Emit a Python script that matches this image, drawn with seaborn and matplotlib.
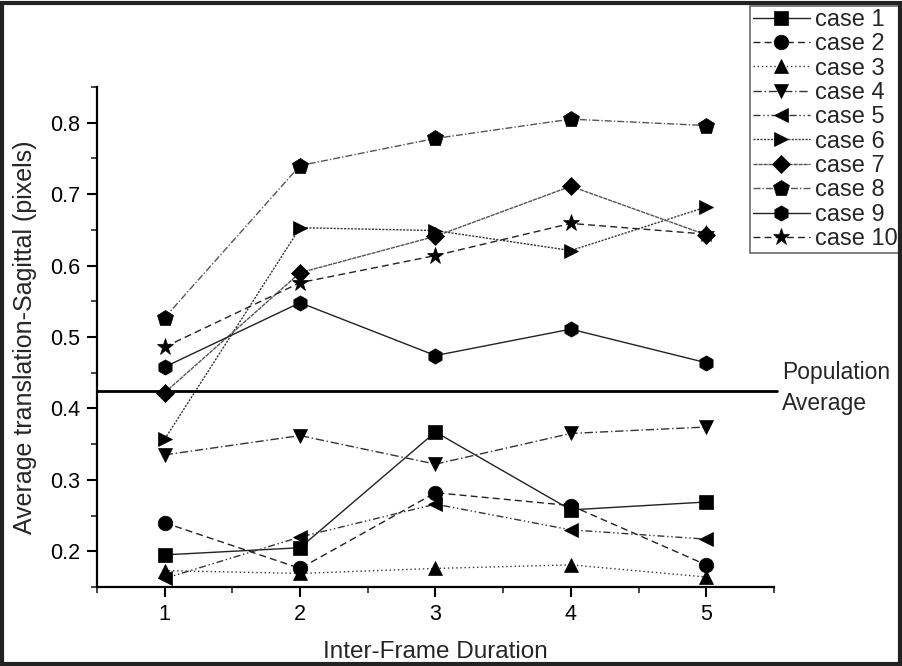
import numpy as np
import pandas as pd
import seaborn as sns
import matplotlib.pyplot as plt
from matplotlib.patches import Rectangle
from matplotlib.ticker import MultipleLocator

durations = [1, 2, 3, 4, 5]
case_names = ['case 1', 'case 2', 'case 3', 'case 4', 'case 5',
              'case 6', 'case 7', 'case 8', 'case 9', 'case 10']
case1 = [0.195, 0.205, 0.367, 0.258, 0.269]
case2 = [0.240, 0.176, 0.282, 0.264, 0.181]
case3 = [0.173, 0.169, 0.176, 0.181, 0.164]
case4 = [0.335, 0.362, 0.322, 0.365, 0.374]
case5 = [0.162, 0.220, 0.266, 0.230, 0.217]
case6 = [0.357, 0.653, 0.649, 0.621, 0.682]
case7 = [0.422, 0.590, 0.641, 0.711, 0.643]
case8 = [0.527, 0.740, 0.778, 0.805, 0.796]
case9 = [0.458, 0.548, 0.474, 0.511, 0.464]
case10 = [0.486, 0.576, 0.614, 0.659, 0.644]
population_avg = 0.4246

values = [case1, case2, case3, case4, case5, case6, case7, case8, case9, case10]
markers = ['s', 'o', '^', 'v', '<', '>', 'D', 'p', 'h', '*']
styles = ['-', (0, (5, 3)), (0, (1, 2)), (0, (6, 2, 1, 2)), (0, (5, 2, 1, 2, 1, 2)),
          (0, (1.5, 1)), (0, (3, 0.6)), (0, (5, 1.5, 1, 1.5)), '-', (0, (5, 3))]
colors = ['#222222', '#222222', '#333333', '#333333', '#333333',
          '#333333', '#555555', '#555555', '#222222', '#222222']
sizes = [10, 10.5, 10.5, 10.5, 10.5, 10.5, 9, 12, 11, 12.5]

sns.set_style('ticks')
plt.rcParams['font.family'] = ['Liberation Sans', 'DejaVu Sans']

fig = plt.figure(figsize=(9.02, 6.66), dpi=100)
ax = fig.add_axes([0.1075, 0.1186, 0.7505, 0.7508])

for name, vals, mk, ls, c, ms in zip(case_names, values, markers, styles, colors, sizes):
    df = pd.DataFrame({'duration': durations, 'value': vals})
    sns.lineplot(data=df, x='duration', y='value', ax=ax, label=name,
                 marker=mk, markersize=ms, color=c, linestyle=ls, linewidth=1.0,
                 markerfacecolor='black', markeredgecolor='black', markeredgewidth=0.5)

ax.axhline(population_avg, xmin=0, xmax=1.005, color='black', linewidth=2, clip_on=False)
ax.text(1.012, 0.398, 'Population\nAverage', transform=ax.transAxes, fontsize=16.5,
        va='center', ha='left', linespacing=1.45)

ax.set_xlim(0.5, 5.5)
ax.set_ylim(0.15, 0.85)
ax.set_xticks(durations)
ax.xaxis.set_minor_locator(MultipleLocator(0.5))
ax.yaxis.set_minor_locator(MultipleLocator(0.05))
ax.set_yticks(np.arange(0.2, 0.81, 0.1))
ax.set_yticklabels(['0.2', '0.3', '0.4', '0.5', '0.6', '0.7', '0.8'])
ax.tick_params(which='major', direction='out', length=7, width=1.5, labelsize=15.5,
               colors='black', pad=5)
ax.tick_params(which='minor', direction='out', length=4, width=1.2)
for side in ['left', 'bottom']:
    ax.spines[side].set_linewidth(1.6)
    ax.spines[side].set_color('black')
sns.despine(ax=ax)

ax.set_xlabel('Inter-Frame Duration', fontsize=17.5, va='center')
ax.xaxis.set_label_coords(0.5, -0.13)
ax.set_ylabel('Average translation-Sagittal (pixels)', fontsize=18, va='center')
ax.yaxis.set_label_coords(-0.106, 0.5)

leg = ax.legend(loc='lower left', bbox_to_anchor=(750 / 902, (666 - 253) / 666),
                bbox_transform=fig.transFigure,
                fontsize=17, handlelength=2.4, handletextpad=0.25, labelspacing=0.1,
                borderpad=0.12, borderaxespad=0, frameon=True, fancybox=False)
leg.get_frame().set_edgecolor('#444444')
leg.get_frame().set_linewidth(1.2)

fig.patches.append(Rectangle((0.002, 0.003), 0.996, 0.992, transform=fig.transFigure,
                             fill=False, edgecolor='#222222', linewidth=3))

fig.savefig('out.png', dpi=100)
